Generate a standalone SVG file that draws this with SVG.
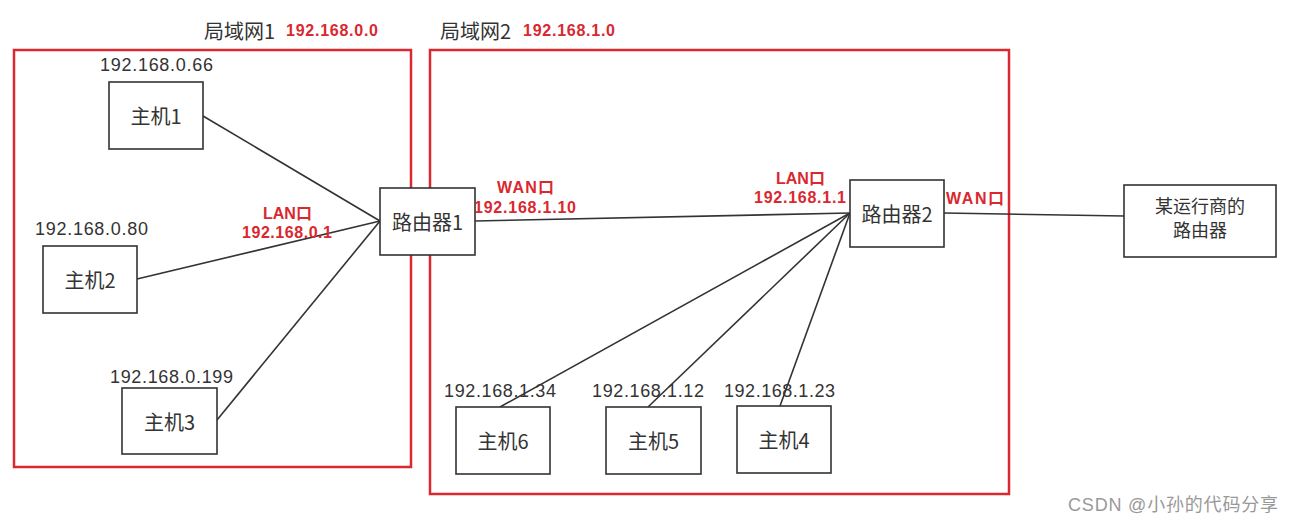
<svg xmlns="http://www.w3.org/2000/svg" width="1294" height="524" viewBox="0 0 1294 524">
<style>
text{font-family:"Noto Sans CJK SC","Liberation Sans",sans-serif;fill:#333;dominant-baseline:central}
.box{fill:#fff;stroke:#333;stroke-width:1.6}
.zone{fill:none;stroke:#d9282f;stroke-width:2.5}
.lbl{font-size:20px;text-anchor:middle}
.ip{font-family:"Liberation Sans","Noto Sans CJK SC",sans-serif;font-size:18px}
.red{font-family:"Liberation Sans","Noto Sans CJK SC",sans-serif;fill:#d9282f;font-weight:bold;font-size:16px}
.title{font-size:20px}
.conn line{stroke:#333;stroke-width:1.6}
</style>
<rect width="1294" height="524" fill="#fff"/>
<g id="lan1">
<rect class="zone" x="14" y="50" width="397" height="417"/>
<text class="title" x="204" y="30">局域网1</text>
<text class="red" x="286" y="30" textLength="92">192.168.0.0</text>
</g>
<g id="lan2">
<rect class="zone" x="430" y="50" width="579" height="444"/>
<text class="title" x="440" y="30">局域网2</text>
<text class="red" x="523" y="30" textLength="92">192.168.1.0</text>
</g>
<g class="conn" id="connectors">
<line x1="203" y1="116" x2="380" y2="221"/>
<line x1="137" y1="279" x2="380" y2="221"/>
<line x1="217" y1="420" x2="380" y2="221"/>
<line x1="475" y1="221" x2="850" y2="213"/>
<line x1="850" y1="213" x2="500" y2="407"/>
<line x1="850" y1="213" x2="648" y2="407"/>
<line x1="850" y1="213" x2="780" y2="406"/>
<line x1="944" y1="213" x2="1124" y2="216"/>
</g>
<g id="host1"><rect class="box" x="109" y="82" width="94" height="67"/><text class="lbl" x="156" y="115.5">主机1</text><text class="ip" x="100" y="65" textLength="113">192.168.0.66</text></g>
<g id="host2"><rect class="box" x="43" y="246" width="94" height="67"/><text class="lbl" x="90" y="279.5">主机2</text><text class="ip" x="35" y="229" textLength="113">192.168.0.80</text></g>
<g id="host3"><rect class="box" x="122" y="388" width="95" height="66"/><text class="lbl" x="169.5" y="421">主机3</text><text class="ip" x="110" y="377" textLength="123">192.168.0.199</text></g>
<g id="router1"><rect class="box" x="380" y="188" width="95" height="67"/><text class="lbl" x="427.5" y="221.5">路由器1</text></g>
<g id="router2"><rect class="box" x="850" y="180" width="94" height="67"/><text class="lbl" x="897" y="213.5">路由器2</text></g>
<g id="isp"><rect class="box" x="1124" y="185" width="152" height="72"/><text class="lbl" x="1200" y="205" style="font-size:18px">某运行商的</text><text class="lbl" x="1200" y="229" style="font-size:18px">路由器</text></g>
<g id="host6"><rect class="box" x="456" y="407" width="94" height="67"/><text class="lbl" x="503" y="440.5">主机6</text><text class="ip" x="444" y="391" textLength="112">192.168.1.34</text></g>
<g id="host5"><rect class="box" x="606" y="407" width="95" height="67"/><text class="lbl" x="653.5" y="440.5">主机5</text><text class="ip" x="592" y="391" textLength="112">192.168.1.12</text></g>
<g id="host4"><rect class="box" x="737" y="406" width="94" height="67"/><text class="lbl" x="784" y="439.5">主机4</text><text class="ip" x="724" y="391" textLength="111">192.168.1.23</text></g>
<g id="port-labels">
<text class="red" x="263" y="213">LAN口</text>
<text class="red" x="242" y="232" textLength="90">192.168.0.1</text>
<text class="red" x="497" y="187" textLength="57">WAN口</text>
<text class="red" x="474" y="207" textLength="102">192.168.1.10</text>
<text class="red" x="776" y="178">LAN口</text>
<text class="red" x="754" y="197" textLength="92">192.168.1.1</text>
<text class="red" x="946" y="198" textLength="58">WAN口</text>
</g>
<text x="1068" y="505" textLength="210" style="font-family:'Liberation Sans','Noto Sans CJK SC',sans-serif;font-size:18px;fill:#999">CSDN @小孙的代码分享</text>
</svg>
